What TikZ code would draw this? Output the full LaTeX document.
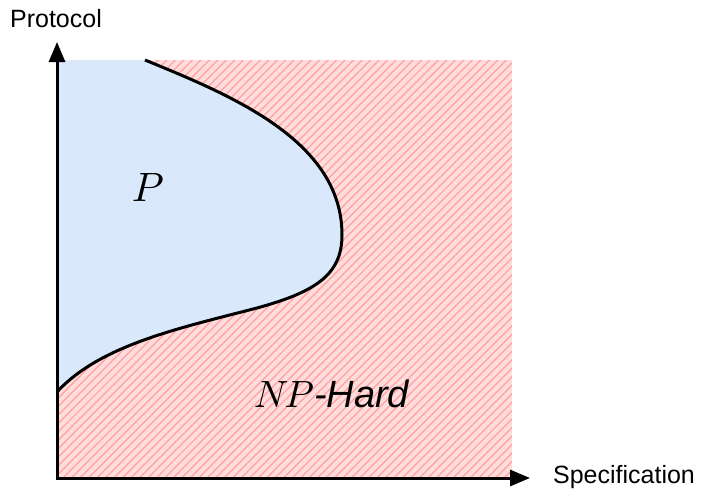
\documentclass[tikz,border=0pt]{standalone}
\usepackage{fix-cm}
\usepackage{fontspec}
\usepackage{graphicx}
\setsansfont{Liberation Sans}
\usetikzlibrary{arrows.meta,patterns.meta}
\definecolor{pinkbase}{RGB}{255,221,221}
\definecolor{pinkline}{RGB}{255,165,165}
\definecolor{pblue}{RGB}{218,232,252}
\tikzset{
  axis/.style={line width=3pt,-{Triangle[length=20pt,width=16pt]}},
  border/.style={line width=3pt,line join=round},
  axlabel/.style={font=\sffamily\fontsize{25}{27}\selectfont,inner sep=0pt},
}
\begin{document}
\begin{tikzpicture}[x=1pt,y=-1pt]
\useasboundingbox (0,0) rectangle (705,490);
% NP-hard region
\fill[pinkbase] (57,60) rectangle (512,478);
\fill[pattern={Lines[angle=45,distance=6pt,line width=1.4pt]},pattern color=pinkline] (57,60) rectangle (512,478);
% P region
\fill[pblue] (57,60) -- (145,60)
  .. controls (230,95) and (342,140) .. (342,235)
  .. controls (342,275) and (315,292) .. (257,308)
  .. controls (180,328) and (100,345) .. (57,392) -- cycle;
\draw[border] (145,60)
  .. controls (230,95) and (342,140) .. (342,235)
  .. controls (342,275) and (315,292) .. (257,308)
  .. controls (180,328) and (100,345) .. (57,392);
% axes
\coordinate (o) at (57,478);
\coordinate (ytip) at (57,42);
\coordinate (xtip) at (530,478);
\draw[axis] (57,479.5) -- (ytip);
\draw[axis] (55.5,478) -- (xtip);
\node[axlabel,anchor=base] (ylab) at (56,27) {Protocol};
\node[axlabel,anchor=base] (xlab) at (624,483) {Specification};
\node[inner sep=0pt,anchor=base] (plab) at (148,201) {\fontsize{10}{12}\selectfont\scalebox{4.1}{$P$}};
\node[inner sep=0pt,anchor=base] (nplab) at (332,407) {\fontsize{10}{12}\selectfont\scalebox{3.8}{$N\mkern-2muP$}\fontsize{38}{40}\selectfont\textsf{\itshape -Hard}};
\end{tikzpicture}
\end{document}
